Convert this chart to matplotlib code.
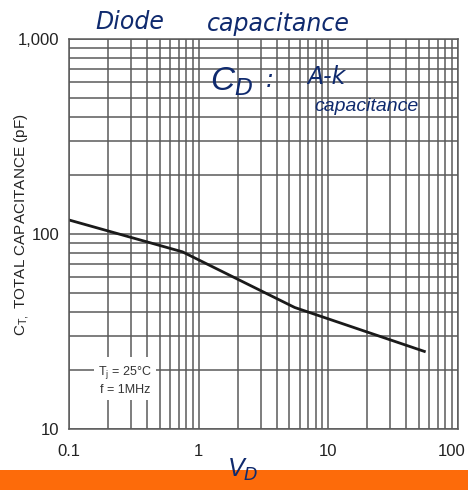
import matplotlib
matplotlib.use("Agg")
import matplotlib.pyplot as plt
import matplotlib.transforms as mtransforms
from matplotlib.patches import Rectangle
from matplotlib.ticker import LogLocator, FixedLocator, FixedFormatter, NullFormatter

plt.rcParams['font.family'] = ['Liberation Sans', 'DejaVu Sans']

# reverse voltage (V) vs total capacitance (pF)
bias_v = [0.1, 0.75, 5.5, 55]
cap_pf = [118, 81, 42, 25]

x_ticks = [0.1, 1, 10, 100]
x_labels = ["0.1", "1", "10", "100"]
y_ticks = [10, 100, 1000]
y_labels = ["10", "100", "1,000"]

W, H = 468, 490
fig = plt.figure(figsize=(W / 100, H / 100), dpi=100)
ax = fig.add_axes([69 / W, 1 - 429 / H, (458 - 69) / W, (429 - 39) / H])

ax.set_xscale("log")
ax.set_yscale("log")
ax.set_xlim(0.1, 100)
ax.set_ylim(10, 1000)

grid_col = "#5a5a5a"
ax.xaxis.set_major_locator(FixedLocator(x_ticks))
ax.xaxis.set_major_formatter(FixedFormatter(x_labels))
ax.yaxis.set_major_locator(FixedLocator(y_ticks))
ax.yaxis.set_major_formatter(FixedFormatter(y_labels))
ax.xaxis.set_minor_locator(LogLocator(base=10, subs=range(2, 10)))
ax.yaxis.set_minor_locator(LogLocator(base=10, subs=range(2, 10)))
ax.xaxis.set_minor_formatter(NullFormatter())
ax.yaxis.set_minor_formatter(NullFormatter())
ax.grid(True, which="both", color=grid_col, lw=1.1)
ax.set_axisbelow(True)
ax.tick_params(which="both", length=0, labelsize=12, colors="#222222")
ax.tick_params(axis="x", pad=11)
ax.tick_params(axis="y", pad=7)
for s in ax.spines.values():
    s.set_color(grid_col)
    s.set_linewidth(1.1)

# keep the last x label inside the figure
last = ax.get_xticklabels()[-1]
last.set_transform(last.get_transform() +
                   mtransforms.ScaledTranslation(-6 / 100, 0, fig.dpi_scale_trans))

ax.plot(bias_v, cap_pf, color="#1a1a1a", lw=2)

ax.text(0.27, 17.8, "T$_\\mathregular{j}$ = 25°C\nf = 1MHz", ha="center", va="center",
        fontsize=9, color="#333333", linespacing=1.3,
        bbox=dict(facecolor="white", edgecolor="none", pad=3))

fig.text(22 / W, 1 - 225 / H, "C$_\\mathregular{T,}$ TOTAL CAPACITANCE (pF)", rotation=90,
         ha="center", va="center", fontsize=11, color="#222222")

# orange strip along the bottom
fig.patches.append(Rectangle((0, 0), 1, 20 / H, transform=fig.transFigure,
                             facecolor="#fd6b0a", edgecolor="none", zorder=0))

# handwritten notes
ink = "#0f2a6e"
hand = dict(color=ink, fontsize=17, fontstyle="italic", ha="center", va="center",
            family=["DejaVu Sans"])
fig.text(130 / W, 1 - 22 / H, "Diode", **hand)
fig.text(278 / W, 1 - 24 / H, "capacitance", **hand)
fig.text(232 / W, 1 - 82 / H, "C$_D$", color=ink, fontsize=24, fontstyle="italic",
         ha="center", va="center")
fig.text(270 / W, 1 - 80 / H, ":", **hand)
fig.text(326 / W, 1 - 77 / H, "A-k", **hand)
fig.text(366 / W, 1 - 106 / H, "capacitance", color=ink, fontsize=14, fontstyle="italic",
         ha="center", va="center")
fig.text(243 / W, 1 - 470 / H, "V$_D$", color=ink, fontsize=18, fontstyle="italic",
         ha="center", va="center", zorder=5)

fig.savefig("out.png", dpi=100)
